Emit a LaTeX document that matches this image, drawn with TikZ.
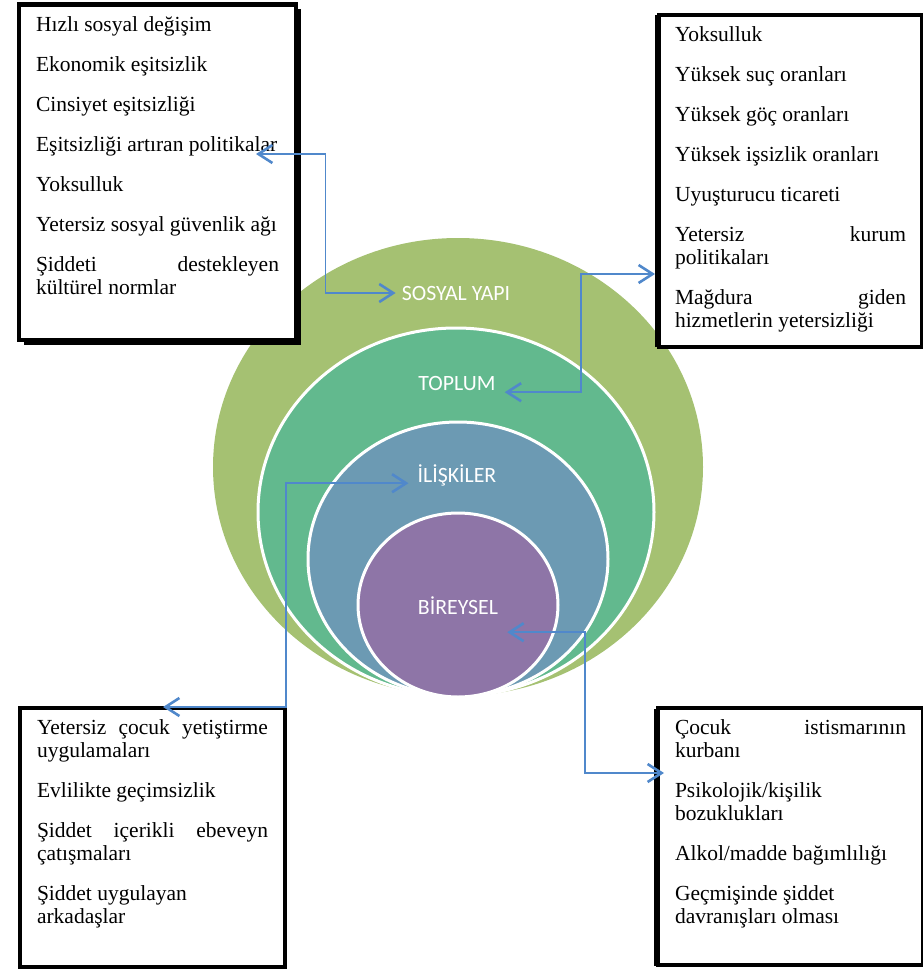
\documentclass[tikz,border=0pt]{standalone}
\usepackage{fontspec}
\setmainfont{Liberation Serif}
\newfontfamily\carlito{Carlito}
\usetikzlibrary{arrows.meta, positioning, shapes.geometric, shadows, calc}
\definecolor{yesilyapi}{HTML}{A5C172}
\definecolor{yesiltoplum}{HTML}{62B98E}
\definecolor{maviiliski}{HTML}{6C9AB3}
\definecolor{morbirey}{HTML}{8E75A7}
\definecolor{mavicizgi}{HTML}{5088CB}
\newcommand{\liste}[3]{\parbox[t][#1][t]{#2}{\strut #3}}
\tikzset{
  kutu/.style={
    draw=black, line width=4.5pt, fill=white, anchor=north west,
    outer sep=0pt, inner xsep=17pt, inner ysep=10.5pt,
    font=\fontsize{21.5}{23}\selectfont
  },
  golge/.style 2 args={general shadow={fill=black, shadow xshift=#1, shadow yshift=#2}},
  halka/.style={ellipse, draw=white, line width=3pt, inner sep=0pt, outer sep=0pt},
  etiket/.style={text=white, font=\fontsize{21.8}{25}\carlito, inner sep=0pt,
    text height=14pt, text depth=0pt},
  okcift/.style={{Straight Barb[length=14pt, width=18pt, line width=2.6pt]}-{Straight Barb[length=14pt, width=18pt, line width=2.6pt]},
    line width=1.5pt, mavicizgi},
}
\begin{document}
\begin{tikzpicture}[x=1pt, y=-1pt]
    \useasboundingbox (0,0) rectangle (922,975);
    \node[halka, draw=none, fill=yesilyapi, minimum width=490pt, minimum height=458pt] (yapi) at (458,467) {};
    \node[halka, fill=yesiltoplum, minimum width=396pt, minimum height=368pt] (toplumhalka) at (456,512) {};
    \node[halka, fill=maviiliski, minimum width=300pt, minimum height=274pt] (iliskihalka) at (458,559) {};
    \node[halka, fill=morbirey, minimum width=200pt, minimum height=184pt] (bireyhalka) at (458,605) {};

    \node[etiket] (sosyal) at (456,293) {SOSYAL YAPI};
    \node[etiket] (toplum) at (457,383) {TOPLUM};
    \node[etiket] (iliskiler) at (457,475) {İLİŞKİLER};
    \node[etiket] (bireysel) at (458,607) {BİREYSEL};

    \node[kutu, golge={4.5pt}{-4.5pt}] (sol) at (19,4.5) {\liste{314.5pt}{243pt}{%
      Hızlı sosyal değişim\\[17pt]
      Ekonomik eşitsizlik\\[17pt]
      Cinsiyet eşitsizliği\\[17pt]
      Eşitsizliği artıran politikalar\\[17pt]
      Yoksulluk\\[17pt]
      Yetersiz sosyal güvenlik ağı\\[17pt]
      Şiddeti\hfill destekleyen\\
      kültürel normlar}};
    \node[kutu, inner xsep=16pt, golge={-4.5pt}{0pt}] (sagust) at (659,15) {\liste{311pt}{231pt}{%
      Yoksulluk\\[17pt]
      Yüksek suç oranları\\[17pt]
      Yüksek göç oranları\\[17pt]
      Yüksek işsizlik oranları\\[17pt]
      Uyuşturucu ticareti\\[17pt]
      Yetersiz\hfill kurum\\
      politikaları\\[17pt]
      Mağdura\hfill giden\\
      hizmetlerin yetersizliği}};
    \node[kutu, golge={1.5pt}{-1pt}] (solalt) at (20,708) {\liste{238pt}{231pt}{%
      Yetersiz\hfill çocuk\hfill yetiştirme\\
      uygulamaları\\[17pt]
      Evlilikte geçimsizlik\\[17pt]
      Şiddet\hfill içerikli\hfill ebeveyn\\
      çatışmaları\\[17pt]
      Şiddet uygulayan\\
      arkadaşlar}};
    \node[kutu, golge={-4.5pt}{-1pt}] (sagalt) at (658,708) {\liste{236pt}{231pt}{%
      Çocuk\hfill istismarının\\
      kurbanı\\[17pt]
      Psikolojik/kişilik\\
      bozuklukları\\[17pt]
      Alkol/madde bağımlılığı\\[17pt]
      Geçmişinde şiddet\\
      davranışları olması}};

    \coordinate (solUc) at (256,154);
    \coordinate (sagustUc) at (655,274);
    \coordinate (solaltUc) at (163,707);
    \coordinate (sagaltUc) at (664,773);

    \draw[okcift] (solUc) -| ([xshift=-76pt]sosyal.west) -- ([xshift=-6pt]sosyal.west);
    \draw[okcift] ([xshift=9pt, yshift=-2pt]toplum.south east) -| ([xshift=-74pt]sagustUc) -- (sagustUc);
    \draw[okcift] ([xshift=-9pt, yshift=-1pt]iliskiler.south west) -| ([xshift=123pt]solaltUc) -- (solaltUc);
    \draw[okcift] ([xshift=9pt, yshift=-18pt]bireysel.south east) -| ([xshift=-79pt]sagaltUc) -- (sagaltUc);
  \end{tikzpicture}
\end{document}
